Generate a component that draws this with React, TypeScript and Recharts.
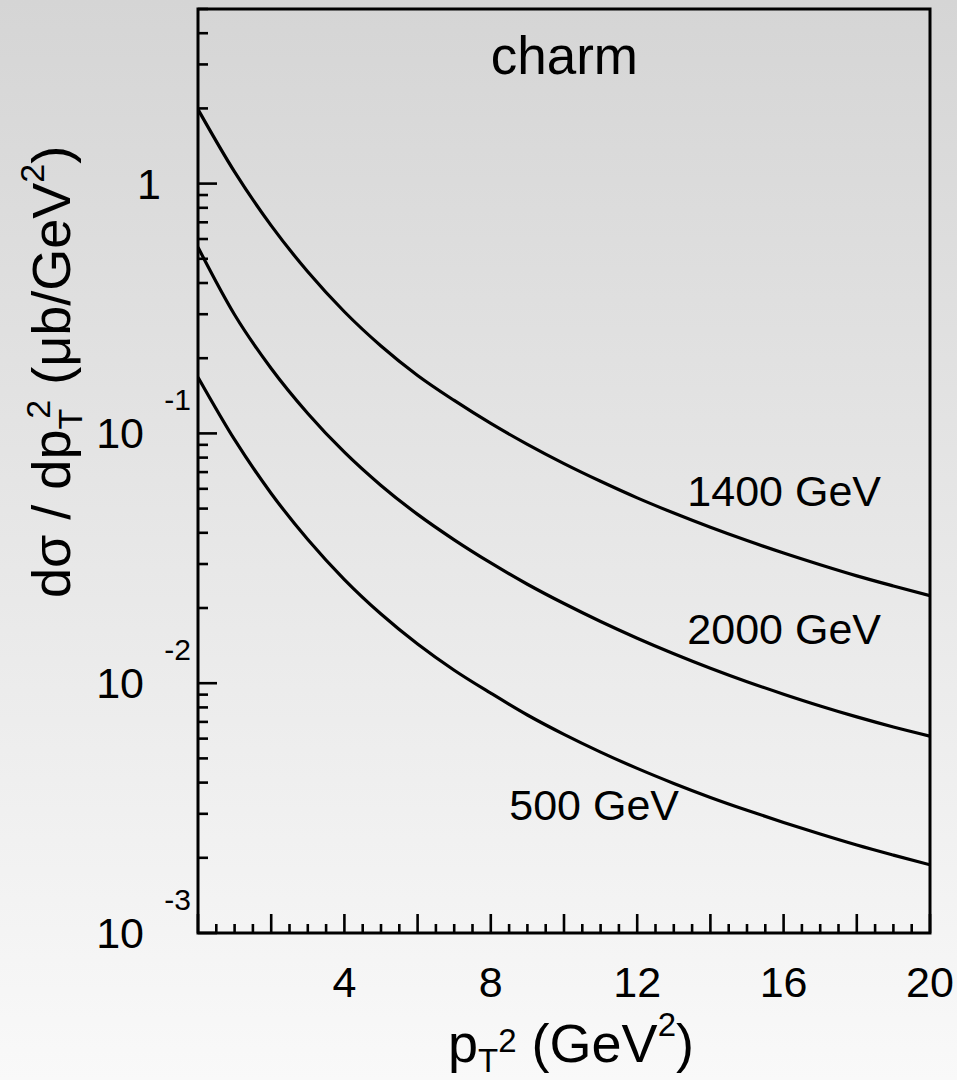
import React from "react";
import { LineChart, Line, XAxis, YAxis, ReferenceArea } from "recharts";

// pT^2 (GeV^2)
const pt2 = [0, 1, 2, 3, 4, 5, 6, 7, 8, 9, 10, 11, 12, 13, 14, 15, 16, 17, 18, 19, 20];
// dsigma/dpT^2 (ub/GeV^2)
const sigma1400 = [1.982, 1.114, 0.679, 0.4436, 0.3069, 0.2239, 0.1706, 0.1355, 0.1096, 0.0904, 0.0757, 0.0643, 0.0552, 0.048, 0.0421, 0.03724, 0.0332, 0.0298, 0.0269, 0.0245, 0.0224];
const sigma2000 = [0.556, 0.2985, 0.182, 0.1202, 0.0841, 0.0619, 0.0474, 0.0375, 0.0303, 0.0249, 0.02084, 0.01766, 0.01514, 0.01312, 0.01148, 0.01014, 0.00904, 0.00811, 0.00733, 0.00668, 0.00614];
const sigma500 = [0.1679, 0.0944, 0.0575, 0.0376, 0.026, 0.01892, 0.01435, 0.01127, 0.00912, 0.00746, 0.00624, 0.0053, 0.00456, 0.00397, 0.00349, 0.0031, 0.00277, 0.00249, 0.00225, 0.00205, 0.001875];

const seriesKeys = ["s1400", "s2000", "s500"];
const seriesLabels = ["1400 GeV", "2000 GeV", "500 GeV"];
const chartTitle = "charm";

const xTicks = [0, 0.5, 1, 1.5, 2, 2.5, 3, 3.5, 4, 4.5, 5, 5.5, 6, 6.5, 7, 7.5, 8, 8.5, 9, 9.5, 10, 10.5, 11, 11.5, 12, 12.5, 13, 13.5, 14, 14.5, 15, 15.5, 16, 16.5, 17, 17.5, 18, 18.5, 19, 19.5, 20];
const xMajorTicks = [0, 2, 4, 6, 8, 10, 12, 14, 16, 18, 20];
const xLabelTicks = [4, 8, 12, 16, 20];

const yTicks = [
  0.001, 0.002, 0.003, 0.004, 0.005, 0.006, 0.007, 0.008, 0.009,
  0.01, 0.02, 0.03, 0.04, 0.05, 0.06, 0.07, 0.08, 0.09,
  0.1, 0.2, 0.3, 0.4, 0.5, 0.6, 0.7, 0.8, 0.9,
  1, 2, 3, 4, 5,
];
const yDecades = [0.001, 0.01, 0.1, 1];
const yDecadeExponents = ["-3", "-2", "-1", ""];

const data = pt2.map((x, i) => ({
  pt2: x,
  s1400: sigma1400[i],
  s2000: sigma2000[i],
  s500: sigma500[i],
}));

const FONT = "'Liberation Sans', Arial, Helvetica, sans-serif";
const W = 957;
const H = 1080;

const XTick = (props: any) => {
  const { x, y, payload } = props;
  const v = payload.value;
  const major = xMajorTicks.includes(v);
  const len = major ? 19 : 9;
  return (
    <g>
      <line x1={x} x2={x} y1={y} y2={y - len} stroke="#000" strokeWidth={2.6} />
      {xLabelTicks.includes(v) && (
        <text x={x} y={y + 64} textAnchor="middle" fontSize={43} fontFamily={FONT} fill="#000">
          {v}
        </text>
      )}
    </g>
  );
};

const YTick = (props: any) => {
  const { x, y, payload } = props;
  const v = payload.value;
  const di = yDecades.indexOf(v);
  const major = di >= 0;
  const len = major ? 19 : 10;
  const exp = major ? yDecadeExponents[di] : "";
  return (
    <g>
      <line x1={x} x2={x + len} y1={y} y2={y} stroke="#000" strokeWidth={2.6} />
      {major && exp === "" && (
        <text x={x - 37} y={y + 15} textAnchor="end" fontSize={43} fontFamily={FONT} fill="#000">
          1
        </text>
      )}
      {major && exp !== "" && (
        <g>
          <text x={x - 54} y={y + 15} textAnchor="end" fontSize={43} fontFamily={FONT} fill="#000">
            10
          </text>
          <text x={x - 7} y={y - 23} textAnchor="end" fontSize={30} fontFamily={FONT} fill="#000">
            {exp}
          </text>
        </g>
      )}
    </g>
  );
};

export default function App() {
  return (
    <div
      style={{
        position: "absolute",
        left: 0,
        top: 0,
        width: W,
        height: H,
        background: "linear-gradient(to bottom, #d5d5d5 0%, #f9f9f9 100%)",
        overflow: "hidden",
      }}
    >
      <LineChart
        width={W}
        height={H}
        data={data}
        margin={{ top: 9, right: 27, bottom: 0, left: 0 }}
        style={{ position: "absolute", left: 0, top: 0 }}
      >
        <XAxis
          dataKey="pt2"
          type="number"
          domain={[0, 20]}
          ticks={xTicks}
          interval={0}
          height={147}
          tickSize={0}
          tickMargin={0}
          tick={<XTick />}
          axisLine={false}
          tickLine={false}
          allowDataOverflow
        />
        <YAxis
          type="number"
          scale="log"
          domain={[0.001, 5]}
          ticks={yTicks}
          interval={0}
          width={198}
          tickSize={0}
          tickMargin={0}
          tick={<YTick />}
          axisLine={false}
          tickLine={false}
          allowDataOverflow
        />
        <ReferenceArea
          x1={0}
          x2={20}
          y1={0.001}
          y2={5}
          fill="none"
          stroke="#000"
          strokeWidth={3}
          ifOverflow="visible"
        />
        {seriesKeys.map((k) => (
          <Line
            key={k}
            dataKey={k}
            type="monotone"
            stroke="#000"
            strokeWidth={3.2}
            dot={false}
            activeDot={false}
            isAnimationActive={false}
          />
        ))}
      </LineChart>
      <svg
        width={W}
        height={H}
        style={{ position: "absolute", left: 0, top: 0, pointerEvents: "none" }}
        fontFamily={FONT}
      >
        <text x={638} y={74} textAnchor="end" fontSize={53} fill="#000">
          {chartTitle}
        </text>
        <text x={881} y={506} textAnchor="end" fontSize={43} fill="#000">
          {seriesLabels[0]}
        </text>
        <text x={881} y={644} textAnchor="end" fontSize={43} fill="#000">
          {seriesLabels[1]}
        </text>
        <text x={679} y={820} textAnchor="end" fontSize={43} fill="#000">
          {seriesLabels[2]}
        </text>
        {/* x axis title */}
        <text x={448} y={1062} textAnchor="start" fontSize={54} fill="#000">
          p
          <tspan fontSize={33} dy={10}>T</tspan>
          <tspan fontSize={33} dy={-20}>2</tspan>
          <tspan fontSize={54} dy={10}>{" (GeV"}</tspan>
          <tspan fontSize={33} dy={-26}>2</tspan>
          <tspan fontSize={54} dy={26}>)</tspan>
        </text>
        {/* y axis title */}
        <g transform="translate(70,598) rotate(-90)">
          <text x={0} y={0} textAnchor="start" fontSize={54} fill="#000">
            {"dσ / dp"}
            <tspan fontSize={34} dy={12}>T</tspan>
            <tspan fontSize={34} dx={-10} dy={-32}>2</tspan>
            <tspan fontSize={54} dy={20}>{" (μb/GeV"}</tspan>
            <tspan fontSize={34} dy={-26}>2</tspan>
            <tspan fontSize={54} dy={26}>)</tspan>
          </text>
        </g>
      </svg>
    </div>
  );
}
